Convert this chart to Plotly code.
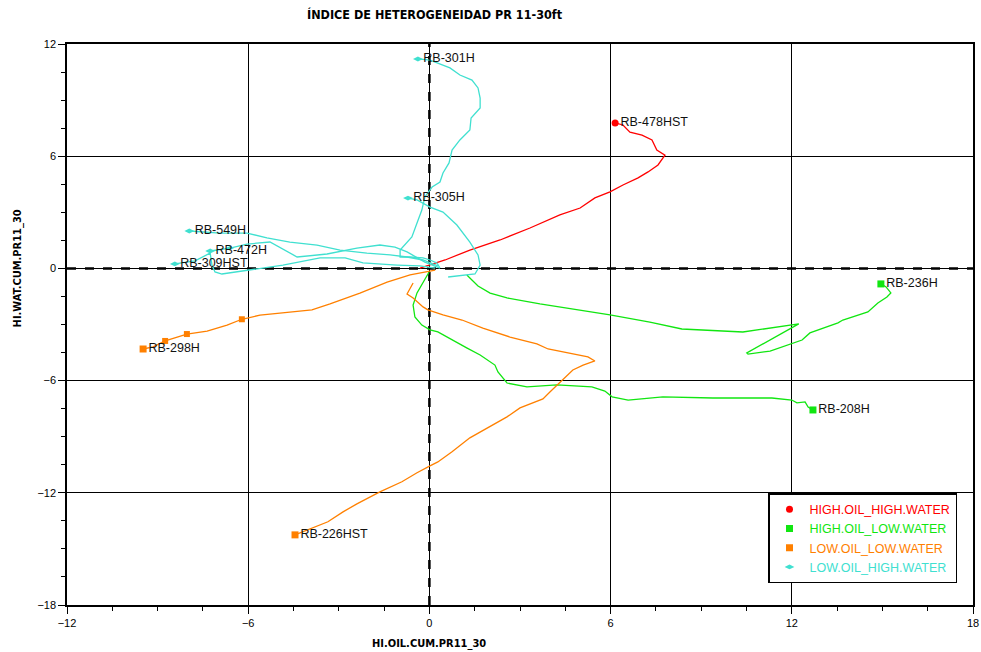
import plotly.graph_objects as go

# ---------------- data ----------------
# HIGH.OIL_HIGH.WATER
x_rb478hst = [-0.31, 0.52, 1.34, 2.34, 3.33, 4.32, 4.99, 5.48, 5.98, 6.41, 6.91, 7.24, 7.57, 7.80, 7.53, 7.37, 7.04, 6.64, 6.41, 6.15]
y_rb478hst = [0.02, 0.45, 0.98, 1.52, 2.16, 2.86, 3.23, 3.77, 4.09, 4.46, 4.84, 5.16, 5.53, 6.06, 6.33, 6.87, 7.13, 7.29, 7.67, 7.78]

# HIGH.OIL_LOW.WATER
x_rb236h = [1.24, 1.61, 2.01, 2.57, 3.66, 4.32, 5.42, 5.98, 7.30, 8.36, 10.38, 12.23, 10.51, 10.55, 11.28, 11.68, 12.01, 12.34, 12.60, 12.87, 13.16, 13.53, 13.69, 14.19, 14.52, 14.85, 15.15, 15.28, 15.12, 14.95]
y_rb236h = [-0.35, -0.94, -1.32, -1.58, -1.90, -2.06, -2.33, -2.49, -2.87, -3.24, -3.40, -2.97, -4.52, -4.58, -4.42, -4.20, -3.99, -3.83, -3.45, -3.29, -3.13, -2.91, -2.76, -2.49, -2.33, -1.85, -1.53, -1.31, -0.99, -0.83]
x_rb208h = [-0.01, -0.21, -0.41, -0.54, -0.48, -0.25, 0.02, 0.28, 0.75, 1.25, 1.68, 2.17, 2.27, 2.57, 3.23, 4.22, 5.38, 5.81, 6.05, 6.58, 7.73, 9.39, 11.34, 12.00, 12.17, 12.44, 12.54, 12.70]
y_rb208h = [-0.19, -0.72, -1.31, -1.96, -2.60, -3.03, -3.29, -3.40, -3.83, -4.26, -4.63, -5.17, -5.54, -6.13, -6.34, -6.23, -6.34, -6.56, -6.87, -7.04, -6.87, -6.93, -6.93, -7.04, -7.19, -7.14, -7.41, -7.57]

# LOW.OIL_LOW.WATER
x_rb298h = [0.19, -0.64, -1.40, -2.30, -3.29, -3.89, -4.95, -5.61, -6.21, -6.70, -7.36, -8.03, -8.75, -9.15, -9.48]
y_rb298h = [-0.09, -0.35, -0.73, -1.32, -1.90, -2.22, -2.39, -2.50, -2.72, -3.03, -3.35, -3.51, -3.88, -4.20, -4.31]
x_rb226hst = [-0.54, -0.74, -0.54, -0.21, -0.05, 0.45, 1.08, 1.77, 2.67, 3.56, 3.93, 4.89, 5.25, 5.48, 5.09, 4.75, 4.39, 3.99, 3.76, 3.40, 3.00, 2.57, 2.11, 1.34, 0.75, 0.28, 0.02, -0.41, -0.91, -1.64, -2.40, -2.86, -3.36, -3.79, -4.22, -4.45]
y_rb226hst = [-0.78, -1.37, -1.58, -2.06, -2.22, -2.49, -2.76, -3.19, -3.67, -4.04, -4.31, -4.63, -4.73, -4.95, -5.17, -5.43, -5.97, -6.61, -6.98, -7.19, -7.46, -7.94, -8.37, -9.06, -9.81, -10.35, -10.56, -10.93, -11.41, -11.95, -12.59, -13.02, -13.55, -13.82, -14.09, -14.25]

# LOW.OIL_HIGH.WATER
x_rb301h = [0.35, 0.25, 0.02, -0.21, -0.64, -0.97, -0.97, -0.81, -0.58, -0.41, -0.25, -0.15, 0.09, 0.35, 0.45, 0.65, 0.75, 1.01, 1.34, 1.38, 1.68, 1.68, 1.61, 1.41, 1.01, 0.68, 0.35, 0.02, -0.38]
y_rb301h = [0.02, 0.29, 0.45, 0.56, 0.61, 0.61, 0.98, 1.25, 1.68, 2.43, 3.12, 3.82, 4.35, 4.62, 5.10, 5.64, 6.33, 6.87, 7.40, 8.04, 8.58, 9.11, 9.65, 10.07, 10.34, 10.72, 10.93, 11.14, 11.20]
x_rb305h = [0.62, 1.51, 1.68, 1.61, 1.34, 0.91, 0.45, 0.02, -0.41, -0.71]
y_rb305h = [-0.46, -0.30, 0.18, 0.72, 1.41, 2.32, 3.01, 3.28, 3.66, 3.76]
x_rb549h = [0.28, -0.21, -0.74, -1.30, -2.07, -2.96, -3.72, -4.62, -5.38, -6.04, -6.93, -7.95]
y_rb549h = [0.13, 0.45, 0.61, 0.72, 0.82, 0.98, 1.25, 1.41, 1.63, 1.89, 1.89, 2.00]
x_rb472h = [0.35, -0.15, -0.74, -1.14, -1.64, -2.40, -3.39, -4.38, -5.28, -6.04, -6.60, -7.26]
y_rb472h = [0.02, 0.34, 0.88, 1.14, 1.25, 1.09, 0.77, 0.61, 1.41, 1.30, 1.09, 0.93]
x_rb309hst = [0.19, -0.31, -1.07, -2.20, -2.79, -3.62, -4.85, -6.01, -6.87, -7.10, -7.20, -7.26, -7.76, -8.43]
y_rb309hst = [0.02, 0.13, 0.18, 0.29, 0.56, 0.56, 0.18, -0.09, -0.30, -0.19, 0.18, 0.82, 0.40, 0.24]

groups = ["HIGH.OIL_HIGH.WATER", "HIGH.OIL_LOW.WATER", "LOW.OIL_LOW.WATER", "LOW.OIL_HIGH.WATER"]
group_colors = ["#ff0000", "#11e611", "#ff8000", "#40e0d0"]
group_symbols = ["circle", "square", "square", "diamond-wide"]

wells = [
    ("RB-478HST", x_rb478hst, y_rb478hst, 0, []),
    ("RB-236H", x_rb236h, y_rb236h, 1, []),
    ("RB-208H", x_rb208h, y_rb208h, 1, []),
    ("RB-298H", x_rb298h, y_rb298h, 2, [8, 11, 12]),
    ("RB-226HST", x_rb226hst, y_rb226hst, 2, []),
    ("RB-301H", x_rb301h, y_rb301h, 3, []),
    ("RB-305H", x_rb305h, y_rb305h, 3, []),
    ("RB-549H", x_rb549h, y_rb549h, 3, []),
    ("RB-472H", x_rb472h, y_rb472h, 3, [10]),
    ("RB-309HST", x_rb309hst, y_rb309hst, 3, []),
]

fig = go.Figure()

for name, xs, ys, g, extra in wells:
    col = group_colors[g]
    fig.add_trace(go.Scatter(x=xs, y=ys, mode="lines", line=dict(color=col, width=1.3),
                             showlegend=False, hoverinfo="skip"))
    if extra:
        fig.add_trace(go.Scatter(x=[xs[i] for i in extra], y=[ys[i] for i in extra], mode="markers",
                                 marker=dict(color=col, symbol=group_symbols[g], size=6),
                                 showlegend=False, hoverinfo="skip"))
    fig.add_trace(go.Scatter(x=[xs[-1]], y=[ys[-1]], mode="markers+text", text=[name],
                             textposition="middle right",
                             textfont=dict(family="Liberation Sans, Arial", size=12.5, color="#111"),
                             marker=dict(color=col, symbol=group_symbols[g], size=7),
                             showlegend=False))

for g, gname in enumerate(groups):
    fig.add_trace(go.Scatter(x=[None], y=[None], mode="markers",
                             marker=dict(color=group_colors[g], symbol=group_symbols[g], size=7),
                             name='<span style="color:%s">%s</span>' % (group_colors[g], gname)))

axis_common = dict(
    showgrid=True, gridcolor="#000000", gridwidth=1,
    zeroline=False, showline=True, linecolor="#000000", linewidth=1.5, mirror=True,
    ticks="outside", ticklen=7, tickcolor="#000000", tickwidth=1,
    tickfont=dict(family="Liberation Sans, Arial", size=11, color="#000"),
    minor=dict(dtick=1.5, ticklen=4, tickcolor="#000000", ticks="outside", showgrid=False),
    automargin=False,
)

fig.update_xaxes(range=[-12, 18], tick0=-12, dtick=6, **axis_common)
fig.update_yaxes(range=[-18, 12], tick0=-18, dtick=6, **axis_common)

fig.add_shape(type="line", xref="x", yref="y", x0=0, x1=0, y0=-18, y1=12,
              line=dict(color="#000", width=2.5, dash="dash"), layer="below")
fig.add_shape(type="line", xref="x", yref="y", x0=-12, x1=18, y0=0, y1=0,
              line=dict(color="#000", width=2.5, dash="dash"), layer="below")

narrow = "Liberation Sans Narrow, Arial Narrow, DejaVu Sans Condensed, Liberation Sans"
fig.add_annotation(text="<b>ÍNDICE DE HETEROGENEIDAD PR 11-30ft</b>", xref="paper", yref="paper",
                   x=(435 - 67) / 906, y=1 + 29 / 561, xanchor="center", yanchor="middle",
                   showarrow=False, font=dict(family=narrow, size=12.5, color="#000"))
fig.add_annotation(text="<b>HI.OIL.CUM.PR11_30</b>", xref="x", yref="paper",
                   x=0, y=-38 / 561, xanchor="center", yanchor="middle",
                   showarrow=False, font=dict(family=narrow, size=11, color="#000"))
fig.add_annotation(text="<b>HI.WAT.CUM.PR11_30</b>", xref="paper", yref="y",
                   x=-50 / 906, y=0, xanchor="center", yanchor="middle", textangle=-90,
                   showarrow=False, font=dict(family=narrow, size=11, color="#000"))

fig.update_layout(
    width=981, height=652,
    margin=dict(l=67, r=8, t=44, b=47, autoexpand=False),
    paper_bgcolor="white", plot_bgcolor="white",
    showlegend=True,
    legend=dict(x=(768 - 67) / 906, y=(605 - 493) / 561, xanchor="left", yanchor="top",
                bgcolor="white", bordercolor="#000", borderwidth=1.5,
                font=dict(family="Liberation Sans, Arial", size=12.5),
                tracegroupgap=0, itemwidth=30),
)

fig.write_html("out.html")
